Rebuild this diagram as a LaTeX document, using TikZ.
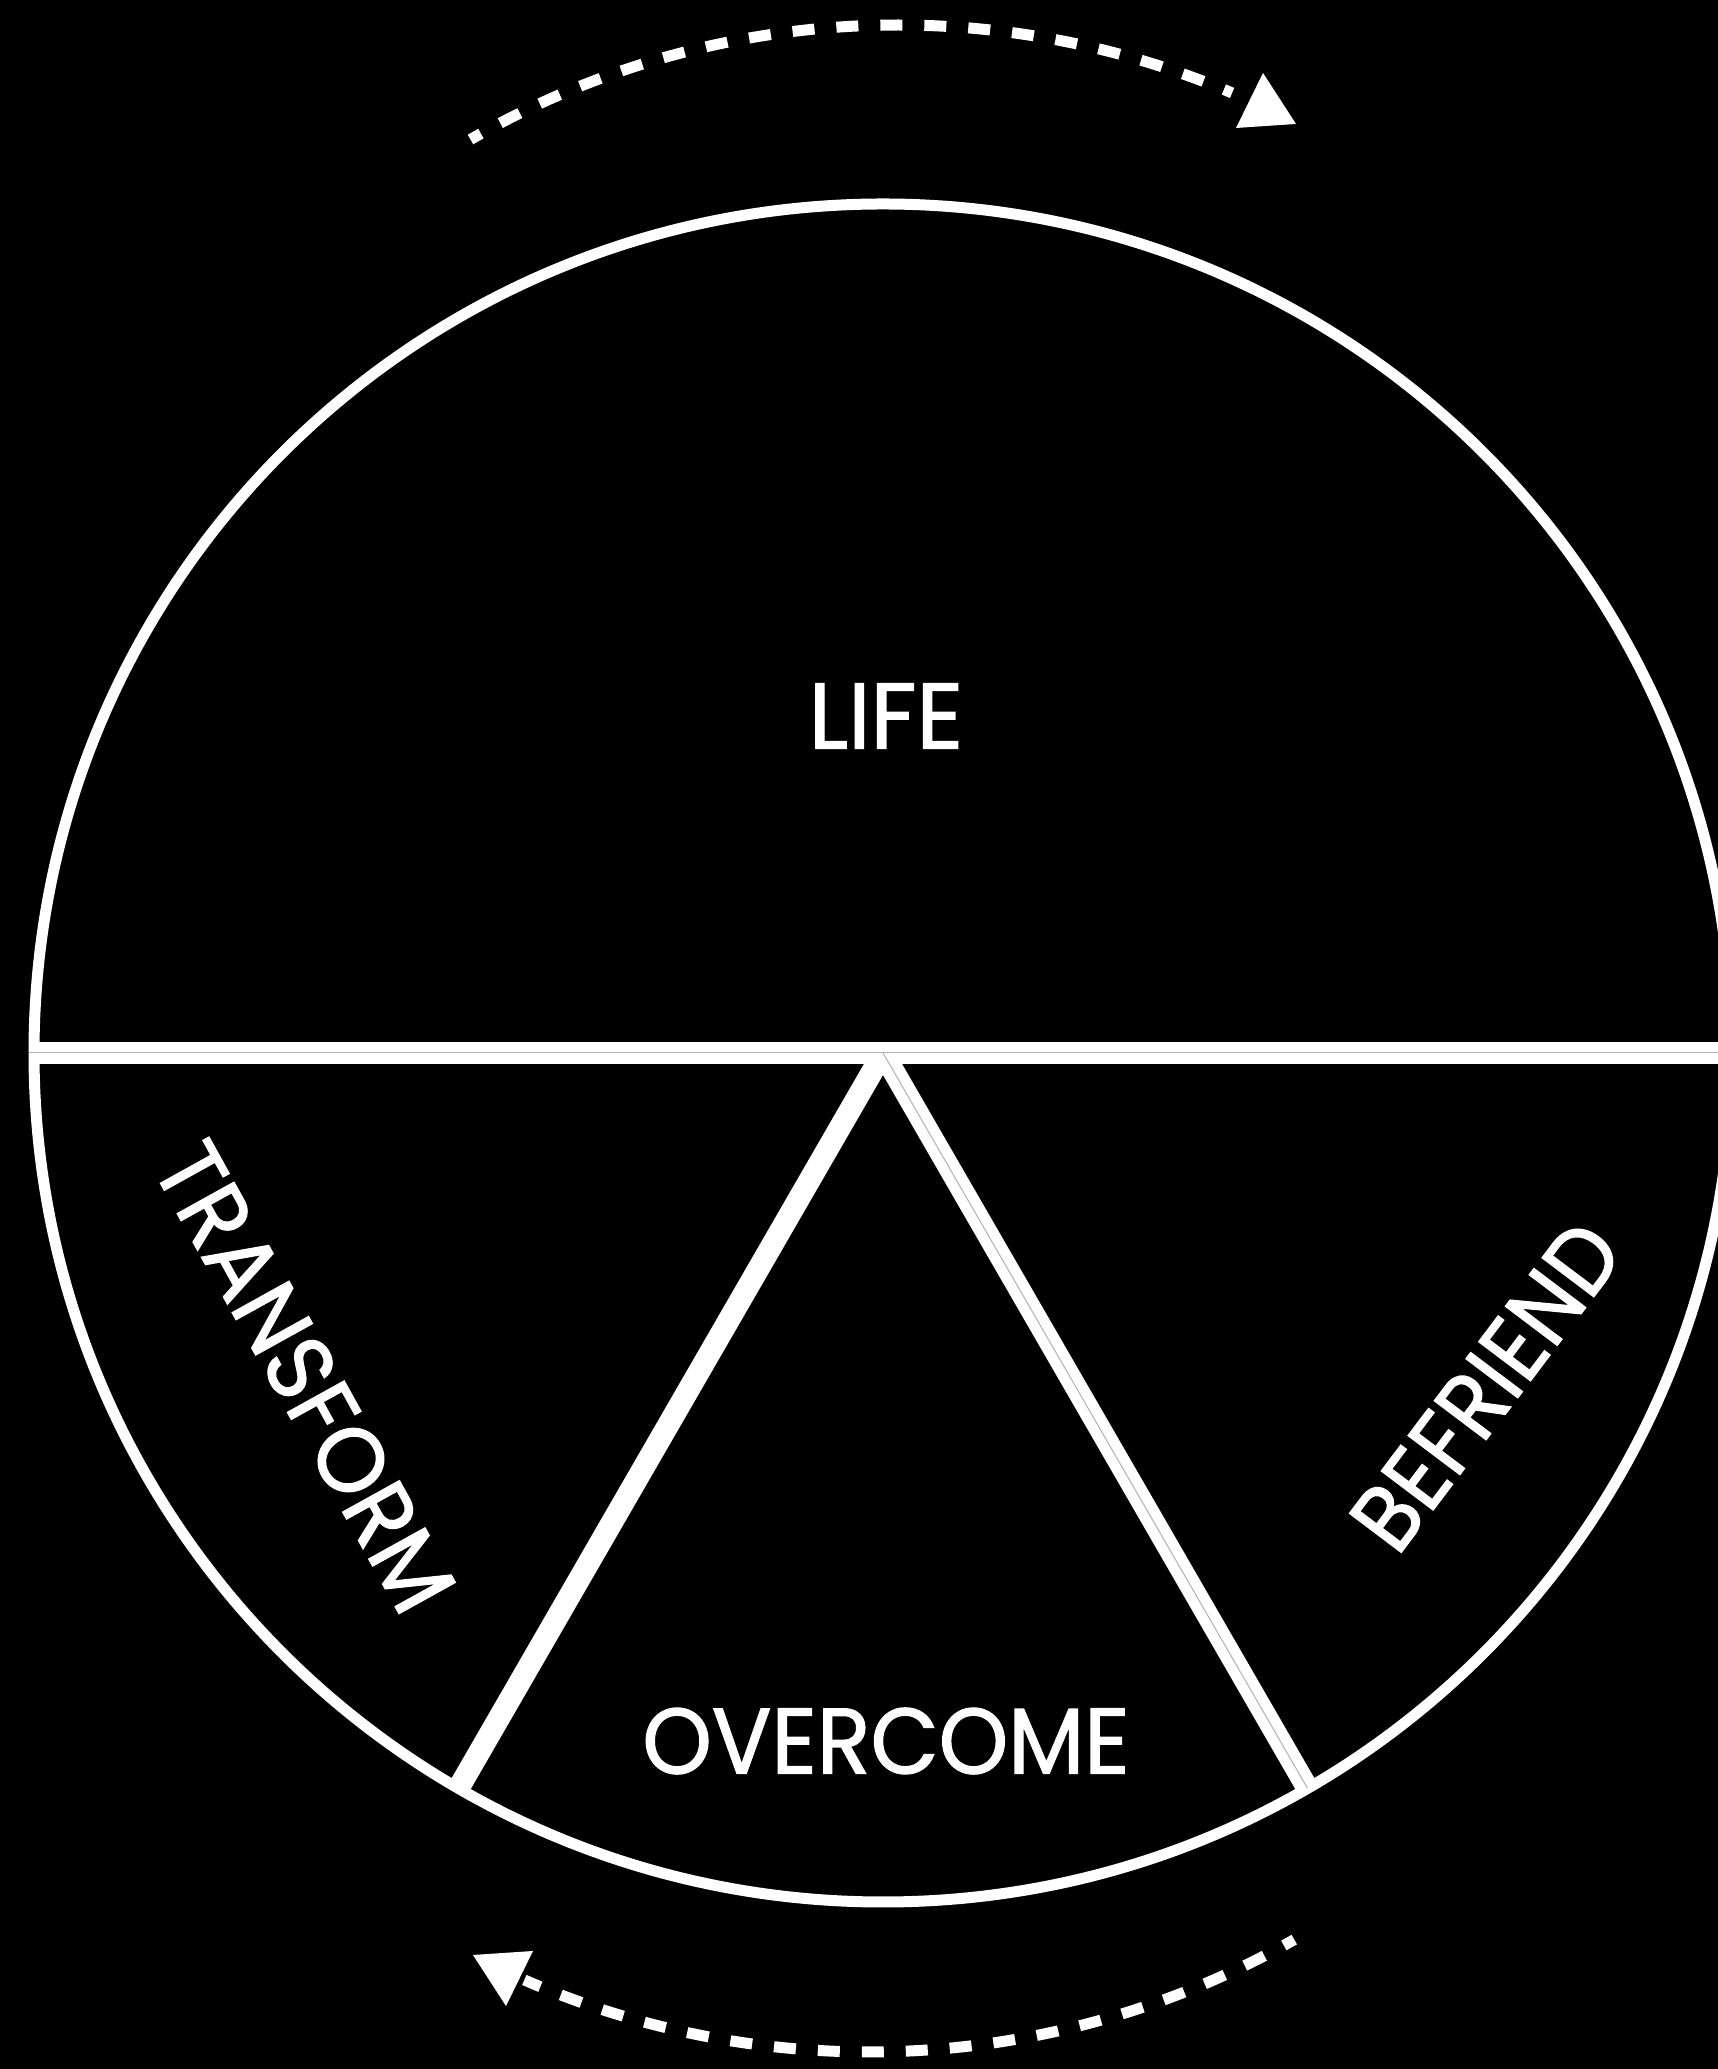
\documentclass[tikz,border=0pt]{standalone}
\usepackage{fontspec}
\setmainfont{Poppins}[FakeBold=1.4]
\begin{document}
\begin{tikzpicture}[x=1pt,y=1pt,
  ring/.style={draw=white, line width=11pt},
  divider/.style={draw=white, line width=22pt},
  seam/.style={draw=black!30, line width=1pt},
  flow/.style={draw=white, line width=11pt, dash pattern=on 22pt off 22pt, dash phase=10pt},
  tipfill/.style={fill=white},
  lbl/.style={text=white, inner sep=0pt, font=\fontsize{93}{93}\selectfont}]
\fill[black] (0,0) rectangle (1718,2069);
\useasboundingbox (0,0) rectangle (1718,2069);
\coordinate (c) at (883,1016);
\draw[ring] (c) circle[radius=849];
\draw[divider] (29,1016) -- (1718,1016);
\draw[divider] (c) -- ++(-120:849);
\draw[divider] (c) -- ++(-60:849);
\draw[seam] (29,1016) -- (1718,1016);
\draw[seam] (c) -- ++(-60:849);
% labels
\node[lbl] (life) at (886,1353) {\scalebox{0.98}[1]{LIFE}};
\node[lbl] (overcome) at (886,328) {\scalebox{0.95}[1]{OVERCOME}};
\node[lbl, rotate=-61] (transform) at (305,692) {\scalebox{0.95}[1]{TRANSFORM}};
\node[lbl, rotate=53] (befriend) at (1486,683) {\scalebox{0.93}[1]{BEFRIEND}};
% flow arrows
\coordinate (topc) at (898,1189);
\coordinate (botc) at (869,878);
\draw[flow] ([shift={(120:855)}]topc) arc[start angle=120, end angle=67, radius=855];
\fill[tipfill] (1263,1996) -- (1236,1941) -- (1296,1945) -- cycle;
\draw[flow] ([shift={(-60.4:861)}]botc) arc[start angle=-60.4, end angle=-113.6, radius=861];
\fill[tipfill] (473,114) -- (533,118) -- (506,63) -- cycle;
\end{tikzpicture}
\end{document}
